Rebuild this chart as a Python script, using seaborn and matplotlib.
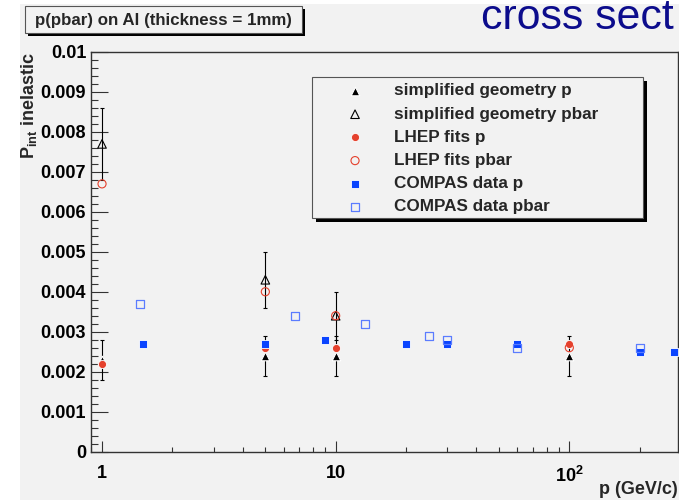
import matplotlib
matplotlib.use("Agg")
import matplotlib.pyplot as plt
import seaborn as sns
from matplotlib.patches import Rectangle
from matplotlib.ticker import FixedLocator, LogLocator, NullFormatter, MultipleLocator

# --- data (momentum in GeV/c, interaction probability) ---
geom_p_x = [1, 5, 10, 100]
geom_p_y = [0.0023, 0.0024, 0.0024, 0.0024]
geom_p_err = [0.0005, 0.0005, 0.0005, 0.0005]

geom_pbar_x = [1, 5, 10]
geom_pbar_y = [0.0077, 0.0043, 0.0034]
geom_pbar_err = [0.0009, 0.0007, 0.0006]

lhep_p_x = [1, 5, 10, 100]
lhep_p_y = [0.0022, 0.0026, 0.0026, 0.0027]

lhep_pbar_x = [1, 5, 10, 100]
lhep_pbar_y = [0.0067, 0.0040, 0.0034, 0.0026]

compas_p_x = [1.5, 5, 9, 20, 30, 60, 200, 280]
compas_p_y = [0.0027, 0.0027, 0.0028, 0.0027, 0.0027, 0.0027, 0.0025, 0.0025]

compas_pbar_x = [1.45, 6.7, 13.3, 25, 30, 60, 200]
compas_pbar_y = [0.0037, 0.0034, 0.0032, 0.0029, 0.0028, 0.0026, 0.0026]

y_ticks = [0, 0.001, 0.002, 0.003, 0.004, 0.005, 0.006, 0.007, 0.008, 0.009, 0.01]
y_tick_labels = ["0", "0.001", "0.002", "0.003", "0.004", "0.005",
                 "0.006", "0.007", "0.008", "0.009", "0.01"]
x_ticks = [1, 10, 100]
x_tick_labels = ["1", "10", r"$\mathbf{10^{2}}$"]

# --- style: ROOT-like grey canvas, bold Helvetica-ish text ---
sns.set_theme(style="ticks")
plt.rcParams["font.family"] = ["Liberation Sans", "DejaVu Sans"]
plt.rcParams["font.weight"] = "bold"
plt.rcParams["mathtext.fontset"] = "custom"
plt.rcParams["mathtext.rm"] = "Liberation Sans:bold"
plt.rcParams["mathtext.bf"] = "Liberation Sans:bold"
plt.rcParams["mathtext.it"] = "Liberation Sans:bold"

BG = "#f2f2f2"
RED = "#e5412d"
BLUE = "#0a44ff"
BLUE_OPEN = "#5b7cff"
W, H = 679, 500


def fx(px):
    return px / W


def fy(py):
    return 1 - py / H


fig = plt.figure(figsize=(W / 100, H / 100), dpi=100, facecolor="white")
fig.patches.append(Rectangle((fx(20), 0), 1 - fx(20), fy(4), transform=fig.transFigure,
                             facecolor=BG, edgecolor="none", zorder=-10))

ax = fig.add_axes([fx(91), fy(451.6), (677.7 - 91) / W, (451.6 - 52) / H])
ax.set_facecolor(BG)

# error bars for the simplified geometry
ax.errorbar(geom_p_x, geom_p_y, yerr=geom_p_err, fmt="none", ecolor="black",
            elinewidth=0.8, capsize=1.6, capthick=0.8, zorder=2)
ax.errorbar(geom_pbar_x, geom_pbar_y, yerr=geom_pbar_err, fmt="none", ecolor="black",
            elinewidth=0.8, capsize=1.6, capthick=0.8, zorder=2)

sns.scatterplot(x=geom_p_x, y=geom_p_y, ax=ax, marker="^", s=38, color="black",
                linewidth=0.8, label="simplified geometry p", zorder=3)
sns.scatterplot(x=geom_pbar_x, y=geom_pbar_y, ax=ax, marker="^", s=38, color="black",
                facecolor="none", edgecolor="black", linewidth=0.8,
                label="simplified geometry pbar", zorder=3)
sns.scatterplot(x=lhep_p_x, y=lhep_p_y, ax=ax, marker="o", s=34, color=RED,
                linewidth=0.6, label="LHEP fits p", zorder=4)
sns.scatterplot(x=lhep_pbar_x, y=lhep_pbar_y, ax=ax, marker="o", s=34, color=RED,
                facecolor="none", edgecolor=RED, linewidth=0.8,
                label="LHEP fits pbar", zorder=4)
sns.scatterplot(x=compas_p_x, y=compas_p_y, ax=ax, marker="s", s=33, color=BLUE,
                linewidth=0.6, label="COMPAS data p", zorder=5)
sns.scatterplot(x=compas_pbar_x, y=compas_pbar_y, ax=ax, marker="s", s=33, color=BLUE_OPEN,
                facecolor="none", edgecolor=BLUE_OPEN, linewidth=0.9,
                label="COMPAS data pbar", zorder=5)

ax.set_xscale("log")
ax.set_xlim(0.897, 291)
ax.set_ylim(0, 0.01)

ax.xaxis.set_major_locator(FixedLocator(x_ticks))
ax.set_xticklabels(x_tick_labels)
ax.xaxis.set_minor_locator(LogLocator(base=10, subs=[2, 3, 4, 5, 6, 7, 8, 9]))
ax.xaxis.set_minor_formatter(NullFormatter())
ax.yaxis.set_major_locator(FixedLocator(y_ticks))
ax.set_yticklabels(y_tick_labels)
ax.yaxis.set_minor_locator(MultipleLocator(0.0002))

ax.tick_params(axis="both", which="both", direction="in", color="#333333",
               labelcolor="black", width=0.8)
ax.tick_params(axis="y", which="major", length=12.2, pad=3.5, labelsize=13)
ax.tick_params(axis="y", which="minor", length=5.3)
ax.tick_params(axis="x", which="major", length=8, pad=10, labelsize=13)
ax.tick_params(axis="x", which="minor", length=3.6)
for sp in ax.spines.values():
    sp.set_visible(True)
    sp.set_color("#333333")
    sp.set_linewidth(1.0)

ax.set_ylabel(r"$\mathbf{P_{int}\ inelastic}$", loc="top", fontsize=13)
ax.yaxis.set_label_coords(-0.0886, 1.0)
ax.set_xlabel("p (GeV/c)", loc="right", fontsize=13, fontweight="bold")
ax.xaxis.set_label_coords(1.0, -0.074)

# legend: ROOT-style box with a hard black shadow
fig.patches.append(Rectangle((fx(316), fy(222)), (643 - 312) / W, (218 - 77) / H,
                             transform=fig.transFigure, facecolor="black",
                             edgecolor="none", zorder=5))
fig.patches.append(Rectangle((fx(312), fy(218)), (643 - 312) / W, (218 - 77) / H,
                             transform=fig.transFigure, facecolor=BG,
                             edgecolor="#555555", linewidth=0.8, zorder=6))
handles, labels = ax.get_legend_handles_labels()
leg = ax.legend(handles, labels, loc="upper left", bbox_to_anchor=(fx(340), fy(83.5)),
                bbox_transform=fig.transFigure, frameon=False, borderpad=0,
                borderaxespad=0, handlelength=1.76, handletextpad=1.4,
                labelspacing=0.48, scatterpoints=1,
                prop={"size": 12.3, "weight": "bold"})
leg.set_zorder(7)
leg.remove()
fig.add_artist(leg)

# title box at the top left
fig.patches.append(Rectangle((fx(28), fy(36)), (302 - 25) / W, (33 - 6) / H,
                             transform=fig.transFigure, facecolor="black",
                             edgecolor="none", zorder=5))
fig.patches.append(Rectangle((fx(25), fy(33)), (302 - 25) / W, (33 - 6) / H,
                             transform=fig.transFigure, facecolor=BG,
                             edgecolor="#555555", linewidth=0.8, zorder=6))
fig.text(fx(163.5), fy(20), "p(pbar) on Al (thickness = 1mm)", ha="center", va="center",
         fontsize=12.2, fontweight="bold", zorder=7)

fig.text(fx(481), fy(29.5), "cross sect", ha="left", va="baseline", fontsize=30.8,
         fontweight="normal", color="#0c0c8c")

fig.savefig("out.png", dpi=100, facecolor=fig.get_facecolor())
